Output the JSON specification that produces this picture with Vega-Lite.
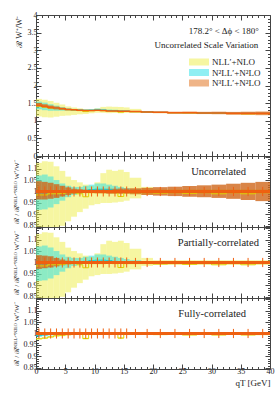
{
"$schema":"https://vega.github.io/schema/vega-lite/v6.json",
"padding":{"left":11,"top":11,"right":8,"bottom":2},
"spacing":0,
"bounds":"flush",
"config":{"view":{"stroke":null},"axis":{"domainColor":"#444","tickColor":"#444","labelColor":"#222","labelFont":"Liberation Serif","labelFontSize":8,"titleFont":"Liberation Serif","titleFontWeight":"normal","titleColor":"#222","titleFontSize":8,"grid":false,"labelOverlap":false,"labelFlush":false},"axisLeft":{"labelPadding":4}},
"datasets":{"bins":[
{"lo":0,"hi":1,"mid":0.5,"R":1.44,"Tyl":1.123,"Tyh":1.62,"Tyc":1.418,"Tcl":1.325,"Tch":1.541,"Tcc":1.433,"Tol":1.39,"Toh":1.505,"uyl":0.78,"uyh":1.125,"uyc":0.985,"ucl":0.92,"uch":1.07,"ucc":0.995,"uol":0.965,"uoh":1.045,"pol":0.972,"poh":1.032,"fyl":0.973,"fyh":0.981,"fyc":0.977,"fcl":0.985,"fch":1.0,"fcc":0.992,"fol":0.997,"foh":1.003,"el":0.978,"eh":1.022},
{"lo":1,"hi":2,"mid":1.5,"R":1.41,"Tyl":1.1,"Tyh":1.596,"Tyc":1.389,"Tcl":1.3,"Tch":1.514,"Tcc":1.403,"Tol":1.361,"Toh":1.469,"uyl":0.78,"uyh":1.132,"uyc":0.985,"ucl":0.922,"uch":1.074,"ucc":0.995,"uol":0.965,"uoh":1.042,"pol":0.975,"poh":1.03,"fyl":0.976,"fyh":0.984,"fyc":0.98,"fcl":0.988,"fch":1.0,"fcc":0.994,"fol":0.997,"foh":1.003,"el":0.978,"eh":1.022},
{"lo":2,"hi":3,"mid":2.5,"R":1.38,"Tyl":1.09,"Tyh":1.559,"Tyc":1.366,"Tcl":1.283,"Tch":1.47,"Tcc":1.376,"Tol":1.336,"Toh":1.432,"uyl":0.79,"uyh":1.13,"uyc":0.99,"ucl":0.93,"uch":1.065,"ucc":0.997,"uol":0.968,"uoh":1.038,"pol":0.978,"poh":1.027,"fyl":0.981,"fyh":0.989,"fyc":0.985,"fcl":0.991,"fch":1.001,"fcc":0.996,"fol":0.997,"foh":1.003,"el":0.978,"eh":1.022},
{"lo":3,"hi":4,"mid":3.5,"R":1.36,"Tyl":1.115,"Tyh":1.51,"Tyc":1.346,"Tcl":1.285,"Tch":1.428,"Tcc":1.357,"Tol":1.322,"Toh":1.404,"uyl":0.82,"uyh":1.11,"uyc":0.99,"ucl":0.945,"uch":1.05,"ucc":0.998,"uol":0.972,"uoh":1.032,"pol":0.983,"poh":1.02,"fyl":0.986,"fyh":0.994,"fyc":0.99,"fcl":0.993,"fch":1.001,"fcc":0.997,"fol":0.997,"foh":1.003,"el":0.978,"eh":1.022},
{"lo":4,"hi":5,"mid":4.5,"R":1.34,"Tyl":1.139,"Tyh":1.461,"Tyc":1.329,"Tcl":1.286,"Tch":1.387,"Tcc":1.337,"Tol":1.311,"Toh":1.374,"uyl":0.85,"uyh":1.09,"uyc":0.992,"ucl":0.96,"uch":1.035,"ucc":0.998,"uol":0.978,"uoh":1.025,"pol":0.988,"poh":1.013,"fyl":0.988,"fyh":0.996,"fyc":0.992,"fcl":0.995,"fch":1.001,"fcc":0.998,"fol":0.997,"foh":1.003,"el":0.978,"eh":1.022},
{"lo":5,"hi":6,"mid":5.5,"R":1.32,"Tyl":1.148,"Tyh":1.406,"Tyc":1.313,"Tcl":1.287,"Tch":1.353,"Tcc":1.32,"Tol":1.3,"Toh":1.344,"uyl":0.87,"uyh":1.065,"uyc":0.995,"ucl":0.975,"uch":1.025,"ucc":1.0,"uol":0.985,"uoh":1.018,"pol":0.992,"poh":1.008,"fyl":0.991,"fyh":0.999,"fyc":0.995,"fcl":0.997,"fch":1.003,"fcc":1.0,"fol":0.997,"foh":1.003,"el":0.978,"eh":1.022},
{"lo":6,"hi":7,"mid":6.5,"R":1.31,"Tyl":1.166,"Tyh":1.376,"Tyc":1.303,"Tcl":1.29,"Tch":1.336,"Tcc":1.31,"Tol":1.297,"Toh":1.326,"uyl":0.89,"uyh":1.05,"uyc":0.995,"ucl":0.985,"uch":1.02,"ucc":1.0,"uol":0.99,"uoh":1.012,"pol":0.994,"poh":1.006,"fyl":0.993,"fyh":1.001,"fyc":0.997,"fcl":0.997,"fch":1.003,"fcc":1.0,"fol":0.997,"foh":1.003,"el":0.978,"eh":1.022},
{"lo":7,"hi":8,"mid":7.5,"R":1.3,"Tyl":1.183,"Tyh":1.352,"Tyc":1.287,"Tcl":1.287,"Tch":1.326,"Tcc":1.303,"Tol":1.29,"Toh":1.313,"uyl":0.91,"uyh":1.04,"uyc":0.99,"ucl":0.99,"uch":1.02,"ucc":1.002,"uol":0.992,"uoh":1.01,"pol":0.996,"poh":1.004,"fyl":0.999,"fyh":1.007,"fyc":1.003,"fcl":0.997,"fch":1.003,"fcc":1.0,"fol":0.997,"foh":1.003,"el":0.978,"eh":1.022},
{"lo":8,"hi":9,"mid":8.5,"R":1.29,"Tyl":1.193,"Tyh":1.329,"Tyc":1.26,"Tcl":1.284,"Tch":1.322,"Tcc":1.296,"Tol":1.281,"Toh":1.3,"uyl":0.925,"uyh":1.03,"uyc":0.977,"ucl":0.995,"uch":1.025,"ucc":1.005,"uol":0.993,"uoh":1.008,"pol":0.996,"poh":1.004,"fyl":0.974,"fyh":0.982,"fyc":0.978,"fcl":0.997,"fch":1.003,"fcc":1.0,"fol":0.997,"foh":1.003,"el":0.978,"eh":1.022},
{"lo":9,"hi":10,"mid":9.5,"R":1.29,"Tyl":1.213,"Tyh":1.322,"Tyc":1.284,"Tcl":1.284,"Tch":1.329,"Tcc":1.3,"Tol":1.281,"Toh":1.3,"uyl":0.94,"uyh":1.025,"uyc":0.995,"ucl":0.995,"uch":1.03,"ucc":1.008,"uol":0.993,"uoh":1.008,"pol":0.996,"poh":1.004,"fyl":0.993,"fyh":1.001,"fyc":0.997,"fcl":0.997,"fch":1.003,"fcc":1.0,"fol":0.997,"foh":1.003,"el":0.978,"eh":1.022},
{"lo":10,"hi":11,"mid":10.5,"R":1.3,"Tyl":1.229,"Tyh":1.352,"Tyc":1.294,"Tcl":1.294,"Tch":1.346,"Tcc":1.313,"Tol":1.29,"Toh":1.313,"uyl":0.945,"uyh":1.04,"uyc":0.995,"ucl":0.995,"uch":1.035,"ucc":1.01,"uol":0.992,"uoh":1.01,"pol":0.996,"poh":1.004,"fyl":0.994,"fyh":1.002,"fyc":0.998,"fcl":0.997,"fch":1.003,"fcc":1.0,"fol":0.997,"foh":1.003,"el":0.978,"eh":1.022},
{"lo":11,"hi":12,"mid":11.5,"R":1.29,"Tyl":1.226,"Tyh":1.393,"Tyc":1.284,"Tcl":1.284,"Tch":1.335,"Tcc":1.303,"Tol":1.28,"Toh":1.303,"uyl":0.95,"uyh":1.08,"uyc":0.995,"ucl":0.995,"uch":1.035,"ucc":1.01,"uol":0.992,"uoh":1.01,"pol":0.996,"poh":1.004,"fyl":0.996,"fyh":1.004,"fyc":1.0,"fcl":0.997,"fch":1.003,"fcc":1.0,"fol":0.997,"foh":1.003,"el":0.978,"eh":1.022},
{"lo":12,"hi":13,"mid":12.5,"R":1.28,"Tyl":1.216,"Tyh":1.402,"Tyc":1.28,"Tcl":1.274,"Tch":1.318,"Tcc":1.29,"Tol":1.267,"Toh":1.295,"uyl":0.95,"uyh":1.095,"uyc":1.0,"ucl":0.995,"uch":1.03,"ucc":1.008,"uol":0.99,"uoh":1.012,"pol":0.996,"poh":1.004,"fyl":0.998,"fyh":1.006,"fyc":1.002,"fcl":0.997,"fch":1.003,"fcc":1.0,"fol":0.997,"foh":1.003,"el":0.978,"eh":1.022},
{"lo":13,"hi":14,"mid":13.5,"R":1.28,"Tyl":1.219,"Tyh":1.395,"Tyc":1.274,"Tcl":1.274,"Tch":1.312,"Tcc":1.286,"Tol":1.267,"Toh":1.295,"uyl":0.952,"uyh":1.09,"uyc":0.995,"ucl":0.995,"uch":1.025,"ucc":1.005,"uol":0.99,"uoh":1.012,"pol":0.996,"poh":1.004,"fyl":0.996,"fyh":1.004,"fyc":1.0,"fcl":0.997,"fch":1.003,"fcc":1.0,"fol":0.997,"foh":1.003,"el":0.978,"eh":1.022},
{"lo":14,"hi":15,"mid":14.5,"R":1.27,"Tyl":1.213,"Tyh":1.391,"Tyc":1.242,"Tcl":1.264,"Tch":1.295,"Tcc":1.274,"Tol":1.257,"Toh":1.287,"uyl":0.955,"uyh":1.095,"uyc":0.978,"ucl":0.995,"uch":1.02,"ucc":1.003,"uol":0.99,"uoh":1.013,"pol":0.996,"poh":1.004,"fyl":0.976,"fyh":0.984,"fyc":0.98,"fcl":0.997,"fch":1.003,"fcc":1.0,"fol":0.997,"foh":1.003,"el":0.978,"eh":1.022},
{"lo":15,"hi":16,"mid":15.5,"R":1.27,"Tyl":1.219,"Tyh":1.378,"Tyc":1.264,"Tcl":1.264,"Tch":1.289,"Tcc":1.273,"Tol":1.257,"Toh":1.287,"uyl":0.96,"uyh":1.085,"uyc":0.995,"ucl":0.995,"uch":1.015,"ucc":1.002,"uol":0.99,"uoh":1.013,"pol":0.996,"poh":1.004,"fyl":0.994,"fyh":1.002,"fyc":0.998,"fcl":0.997,"fch":1.003,"fcc":1.0,"fol":0.997,"foh":1.003,"el":0.978,"eh":1.022},
{"lo":16,"hi":18,"mid":17,"R":1.26,"Tyl":1.222,"Tyh":1.336,"Tyc":1.254,"Tcl":1.254,"Tch":1.273,"Tcc":1.26,"Tol":1.245,"Toh":1.278,"uyl":0.97,"uyh":1.06,"uyc":0.995,"ucl":0.995,"uch":1.01,"ucc":1.0,"uol":0.988,"uoh":1.014,"pol":0.996,"poh":1.004,"fyl":0.994,"fyh":1.002,"fyc":0.998,"fcl":0.997,"fch":1.003,"fcc":1.0,"fol":0.997,"foh":1.003,"el":0.98,"eh":1.02},
{"lo":18,"hi":20,"mid":19,"R":1.25,"Tyl":1.231,"Tyh":1.275,"Tyc":1.244,"Tcl":1.244,"Tch":1.258,"Tcc":1.25,"Tol":1.231,"Toh":1.27,"uyl":0.985,"uyh":1.02,"uyc":0.995,"ucl":0.995,"uch":1.006,"ucc":1.0,"uol":0.985,"uoh":1.016,"pol":0.996,"poh":1.004,"fyl":0.994,"fyh":1.002,"fyc":0.998,"fcl":0.997,"fch":1.003,"fcc":1.0,"fol":0.997,"foh":1.003,"el":0.98,"eh":1.02},
{"lo":20,"hi":22.5,"mid":21.25,"R":1.24,"Tyl":1.228,"Tyh":1.252,"Tyc":1.231,"Tcl":1.234,"Tch":1.246,"Tcc":1.24,"Tol":1.218,"Toh":1.264,"uyl":0.99,"uyh":1.01,"uyc":0.993,"ucl":0.995,"uch":1.005,"ucc":1.0,"uol":0.982,"uoh":1.019,"pol":0.996,"poh":1.004,"fyl":0.992,"fyh":1.0,"fyc":0.996,"fcl":0.997,"fch":1.003,"fcc":1.0,"fol":0.997,"foh":1.003,"el":0.98,"eh":1.02},
{"lo":22.5,"hi":25,"mid":23.75,"R":1.23,"Tyl":1.218,"Tyh":1.242,"Tyc":1.224,"Tcl":1.224,"Tch":1.236,"Tcc":1.23,"Tol":1.205,"Toh":1.256,"uyl":0.99,"uyh":1.01,"uyc":0.995,"ucl":0.995,"uch":1.005,"ucc":1.0,"uol":0.98,"uoh":1.021,"pol":0.996,"poh":1.004,"fyl":0.994,"fyh":1.002,"fyc":0.998,"fcl":0.997,"fch":1.003,"fcc":1.0,"fol":0.997,"foh":1.003,"el":0.98,"eh":1.02},
{"lo":25,"hi":27.5,"mid":26.25,"R":1.23,"Tyl":1.218,"Tyh":1.242,"Tyc":1.22,"Tcl":1.224,"Tch":1.236,"Tcc":1.23,"Tol":1.202,"Toh":1.26,"uyl":0.99,"uyh":1.01,"uyc":0.992,"ucl":0.995,"uch":1.005,"ucc":1.0,"uol":0.977,"uoh":1.024,"pol":0.996,"poh":1.004,"fyl":0.99,"fyh":0.998,"fyc":0.994,"fcl":0.997,"fch":1.003,"fcc":1.0,"fol":0.997,"foh":1.003,"el":0.98,"eh":1.02},
{"lo":27.5,"hi":30,"mid":28.75,"R":1.22,"Tyl":1.208,"Tyh":1.232,"Tyc":1.214,"Tcl":1.214,"Tch":1.226,"Tcc":1.22,"Tol":1.19,"Toh":1.253,"uyl":0.99,"uyh":1.01,"uyc":0.995,"ucl":0.995,"uch":1.005,"ucc":1.0,"uol":0.975,"uoh":1.027,"pol":0.996,"poh":1.004,"fyl":0.994,"fyh":1.002,"fyc":0.998,"fcl":0.997,"fch":1.003,"fcc":1.0,"fol":0.997,"foh":1.003,"el":0.98,"eh":1.02},
{"lo":30,"hi":32.5,"mid":31.25,"R":1.22,"Tyl":1.208,"Tyh":1.232,"Tyc":1.208,"Tcl":1.214,"Tch":1.226,"Tcc":1.22,"Tol":1.186,"Toh":1.257,"uyl":0.99,"uyh":1.01,"uyc":0.99,"ucl":0.995,"uch":1.005,"ucc":1.0,"uol":0.972,"uoh":1.03,"pol":0.996,"poh":1.004,"fyl":0.99,"fyh":0.998,"fyc":0.994,"fcl":0.997,"fch":1.003,"fcc":1.0,"fol":0.997,"foh":1.003,"el":0.98,"eh":1.02},
{"lo":32.5,"hi":35,"mid":33.75,"R":1.21,"Tyl":1.198,"Tyh":1.222,"Tyc":1.204,"Tcl":1.204,"Tch":1.216,"Tcc":1.21,"Tol":1.171,"Toh":1.251,"uyl":0.99,"uyh":1.01,"uyc":0.995,"ucl":0.995,"uch":1.005,"ucc":1.0,"uol":0.968,"uoh":1.034,"pol":0.996,"poh":1.004,"fyl":0.994,"fyh":1.002,"fyc":0.998,"fcl":0.997,"fch":1.003,"fcc":1.0,"fol":0.997,"foh":1.003,"el":0.98,"eh":1.02},
{"lo":35,"hi":37.5,"mid":36.25,"R":1.21,"Tyl":1.198,"Tyh":1.222,"Tyc":1.198,"Tcl":1.204,"Tch":1.216,"Tcc":1.21,"Tol":1.165,"Toh":1.256,"uyl":0.99,"uyh":1.01,"uyc":0.99,"ucl":0.995,"uch":1.005,"ucc":1.0,"uol":0.963,"uoh":1.038,"pol":0.996,"poh":1.004,"fyl":0.99,"fyh":0.998,"fyc":0.994,"fcl":0.997,"fch":1.003,"fcc":1.0,"fol":0.997,"foh":1.003,"el":0.98,"eh":1.02},
{"lo":37.5,"hi":40,"mid":38.75,"R":1.21,"Tyl":1.198,"Tyh":1.222,"Tyc":1.204,"Tcl":1.204,"Tch":1.216,"Tcc":1.21,"Tol":1.159,"Toh":1.261,"uyl":0.99,"uyh":1.01,"uyc":0.995,"ucl":0.995,"uch":1.005,"ucc":1.0,"uol":0.958,"uoh":1.042,"pol":0.996,"poh":1.004,"fyl":0.992,"fyh":1.0,"fyc":0.996,"fcl":0.997,"fch":1.003,"fcc":1.0,"fol":0.997,"foh":1.003,"el":0.98,"eh":1.02}
]},
"vconcat":[
{"width":234,"height":141,"data":{"name":"bins"},
 "layer":[
  {"mark":{"type":"rect","opacity":0.5,"clip":true},
   "encoding":{
    "x":{"field":"lo","type":"quantitative","scale":{"domain":[0,40],"nice":false,"zero":false},"axis":{"orient":"bottom","values":[0,1,2,3,4,5,6,7,8,9,10,11,12,13,14,15,16,17,18,19,20,21,22,23,24,25,26,27,28,29,30,31,32,33,34,35,36,37,38,39,40],"tickSize":{"condition":{"test":"datum.value % 5 === 0","value":-5},"value":-2.5},"labels":false,"title":null}},
    "x2":{"field":"hi"},
    "y":{"field":"Tyl","type":"quantitative","scale":{"domain":[0,4],"nice":false,"zero":false},"axis":{"orient":"left","values":[0,0.1,0.2,0.3,0.4,0.5,0.6,0.7,0.8,0.9,1,1.1,1.2,1.3,1.4,1.5,1.6,1.7,1.8,1.9,2,2.1,2.2,2.3,2.4,2.5,2.6,2.7,2.8,2.9,3,3.1,3.2,3.3,3.4,3.5,3.6,3.7,3.8,3.9,4],"format":"~g","tickSize":{"condition":{"test":"abs(datum.value*2-round(datum.value*2))<0.01","value":-5},"value":-2.5},"labelExpr":"abs(datum.value*2-round(datum.value*2))<0.01 ? datum.label : ''","title":"ℛ W⁺/W⁻","titleAnchor":"end"}},
    "y2":{"field":"Tyh"},
    "color":{"datum":"NLL′+NLO","type":"nominal","scale":{"domain":["NLL′+NLO","N²LL′+N²LO","N³LL′+N²LO"],"range":["#eeee44","#22e0e8","#e06a10"]},
     "legend":{"orient":"none","legendX":158,"legendY":42,"title":null,"symbolType":"M-2,-0.7H2V0.7H-2Z","symbolSize":100,"symbolStrokeWidth":0,"symbolOpacity":0.7,"labelFont":"Liberation Serif","labelFontSize":9,"labelColor":"#222","labelOffset":8,"rowPadding":0.5,"padding":0}}}},
  {"mark":{"type":"rect","opacity":0.5,"clip":true},
   "encoding":{
    "x":{"field":"lo","type":"quantitative","scale":{"domain":[0,40],"nice":false,"zero":false},"axis":{"orient":"top","values":[0,1,2,3,4,5,6,7,8,9,10,11,12,13,14,15,16,17,18,19,20,21,22,23,24,25,26,27,28,29,30,31,32,33,34,35,36,37,38,39,40],"tickSize":{"condition":{"test":"datum.value % 5 === 0","value":-5},"value":-2.5},"labels":false,"title":null}},
    "x2":{"field":"hi"},
    "y":{"field":"Tcl","type":"quantitative","scale":{"domain":[0,4],"nice":false,"zero":false},"axis":{"orient":"right","values":[0,0.1,0.2,0.3,0.4,0.5,0.6,0.7,0.8,0.9,1,1.1,1.2,1.3,1.4,1.5,1.6,1.7,1.8,1.9,2,2.1,2.2,2.3,2.4,2.5,2.6,2.7,2.8,2.9,3,3.1,3.2,3.3,3.4,3.5,3.6,3.7,3.8,3.9,4],"tickSize":{"condition":{"test":"abs(datum.value*2-round(datum.value*2))<0.01","value":-5},"value":-2.5},"labels":false,"title":null}},
    "y2":{"field":"Tch"},
    "color":{"datum":"N²LL′+N²LO","type":"nominal"}}},
  {"mark":{"type":"rect","opacity":0.75,"clip":true},
   "encoding":{"x":{"field":"lo","type":"quantitative","scale":{"domain":[0,40],"nice":false,"zero":false},"axis":null},"x2":{"field":"hi"},"y":{"field":"Tol","type":"quantitative","scale":{"domain":[0,4],"nice":false,"zero":false},"axis":null},"y2":{"field":"Toh"},"color":{"datum":"N³LL′+N²LO","type":"nominal"}}},
  {"transform":[{"fold":["lo","hi"],"as":["k","xv"]}],"mark":{"type":"line","color":"#e0d000","strokeWidth":1,"clip":true},
   "encoding":{"x":{"field":"xv","type":"quantitative","scale":{"domain":[0,40],"nice":false,"zero":false},"axis":null},"y":{"field":"Tyc","type":"quantitative","scale":{"domain":[0,4],"nice":false,"zero":false},"axis":null},"order":[{"field":"xv","type":"quantitative"},{"field":"k","type":"nominal"}]}},
  {"transform":[{"fold":["lo","hi"],"as":["k","xv"]}],"mark":{"type":"line","color":"#10ccd4","strokeWidth":1,"clip":true},
   "encoding":{"x":{"field":"xv","type":"quantitative","scale":{"domain":[0,40],"nice":false,"zero":false},"axis":null},"y":{"field":"Tcc","type":"quantitative","scale":{"domain":[0,4],"nice":false,"zero":false},"axis":null},"order":[{"field":"xv","type":"quantitative"},{"field":"k","type":"nominal"}]}},
  {"transform":[{"fold":["lo","hi"],"as":["k","xv"]}],"mark":{"type":"line","color":"#f06010","strokeWidth":1.5,"clip":true},
   "encoding":{"x":{"field":"xv","type":"quantitative","scale":{"domain":[0,40],"nice":false,"zero":false},"axis":null},"y":{"field":"R","type":"quantitative","scale":{"domain":[0,4],"nice":false,"zero":false},"axis":null},"order":[{"field":"xv","type":"quantitative"},{"field":"k","type":"nominal"}]}},
  {"data":{"values":[{"t":"178.2° < Δϕ < 180°","x":38.1,"y":3.56},{"t":"Uncorrelated Scale Variation","x":38.0,"y":3.14}]},
   "mark":{"type":"text","align":"right","baseline":"middle","font":"Liberation Serif","fontSize":9,"color":"#222"},
   "encoding":{"x":{"field":"x","type":"quantitative","scale":{"domain":[0,40],"nice":false,"zero":false},"axis":null},"y":{"field":"y","type":"quantitative","scale":{"domain":[0,4],"nice":false,"zero":false},"axis":null},"text":{"field":"t"}}}
 ],
 "resolve":{"axis":{"x":"independent","y":"independent"}}
},
{"width":234,"height":71,"data":{"name":"bins"},
 "layer":[
  {"mark":{"type":"rect","color":"#eeee44","opacity":0.5,"clip":true},
   "encoding":{
    "x":{"field":"lo","type":"quantitative","scale":{"domain":[0,40],"nice":false,"zero":false},"axis":{"orient":"bottom","values":[0,1,2,3,4,5,6,7,8,9,10,11,12,13,14,15,16,17,18,19,20,21,22,23,24,25,26,27,28,29,30,31,32,33,34,35,36,37,38,39,40],"tickSize":{"condition":{"test":"datum.value % 5 === 0","value":-5},"value":-2.5},"labels":false,"title":null}},
    "x2":{"field":"hi"},
    "y":{"field":"uyl","type":"quantitative","scale":{"domain":[0.845,1.155],"nice":false,"zero":false},"axis":{"orient":"left","values":[0.85,0.86,0.87,0.88,0.89,0.9,0.91,0.92,0.93,0.94,0.95,0.96,0.97,0.98,0.99,1,1.01,1.02,1.03,1.04,1.05,1.06,1.07,1.08,1.09,1.1,1.11,1.12,1.13,1.14,1.15],"format":"~g","tickSize":{"condition":{"test":"abs(datum.value*20-round(datum.value*20))<0.01","value":-5},"value":-2.5},"labelExpr":"abs(datum.value*20-round(datum.value*20))<0.01 && datum.value<1.14 ? datum.label : ''","title":"ℛ / ℛᴺ³ᴸᴸ′⁺ᴺ²ᴸᴼ W⁺/W⁻","titleFontSize":7}},
    "y2":{"field":"uyh"}}},
  {"mark":{"type":"rect","color":"#22e0e8","opacity":0.5,"clip":true},
   "encoding":{
    "x":{"field":"lo","type":"quantitative","scale":{"domain":[0,40],"nice":false,"zero":false},"axis":{"orient":"top","values":[0,1,2,3,4,5,6,7,8,9,10,11,12,13,14,15,16,17,18,19,20,21,22,23,24,25,26,27,28,29,30,31,32,33,34,35,36,37,38,39,40],"tickSize":{"condition":{"test":"datum.value % 5 === 0","value":-5},"value":-2.5},"labels":false,"title":null}},
    "x2":{"field":"hi"},
    "y":{"field":"ucl","type":"quantitative","scale":{"domain":[0.845,1.155],"nice":false,"zero":false},"axis":{"orient":"right","values":[0.85,0.86,0.87,0.88,0.89,0.9,0.91,0.92,0.93,0.94,0.95,0.96,0.97,0.98,0.99,1,1.01,1.02,1.03,1.04,1.05,1.06,1.07,1.08,1.09,1.1,1.11,1.12,1.13,1.14,1.15],"tickSize":{"condition":{"test":"abs(datum.value*20-round(datum.value*20))<0.01","value":-5},"value":-2.5},"labels":false,"title":null}},
    "y2":{"field":"uch"}}},
  {"mark":{"type":"rect","color":"#d0661a","opacity":0.8,"clip":true},
   "encoding":{"x":{"field":"lo","type":"quantitative","scale":{"domain":[0,40],"nice":false,"zero":false},"axis":null},"x2":{"field":"hi"},"y":{"field":"uol","type":"quantitative","scale":{"domain":[0.845,1.155],"nice":false,"zero":false},"axis":null},"y2":{"field":"uoh"}}},
  {"transform":[{"fold":["lo","hi"],"as":["k","xv"]}],"mark":{"type":"line","color":"#e0d000","strokeWidth":1,"clip":true},
   "encoding":{"x":{"field":"xv","type":"quantitative","scale":{"domain":[0,40],"nice":false,"zero":false},"axis":null},"y":{"field":"uyc","type":"quantitative","scale":{"domain":[0.845,1.155],"nice":false,"zero":false},"axis":null},"order":[{"field":"xv","type":"quantitative"},{"field":"k","type":"nominal"}]}},
  {"transform":[{"fold":["lo","hi"],"as":["k","xv"]}],"mark":{"type":"line","color":"#10ccd4","strokeWidth":1,"clip":true},
   "encoding":{"x":{"field":"xv","type":"quantitative","scale":{"domain":[0,40],"nice":false,"zero":false},"axis":null},"y":{"field":"ucc","type":"quantitative","scale":{"domain":[0.845,1.155],"nice":false,"zero":false},"axis":null},"order":[{"field":"xv","type":"quantitative"},{"field":"k","type":"nominal"}]}},
  {"mark":{"type":"rule","color":"#f06010","strokeWidth":1.5},"encoding":{"y":{"datum":1,"type":"quantitative","scale":{"domain":[0.845,1.155],"nice":false,"zero":false},"axis":null}}},
  {"mark":{"type":"rule","color":"#f06010","strokeWidth":1},"encoding":{"x":{"field":"mid","type":"quantitative","scale":{"domain":[0,40],"nice":false,"zero":false},"axis":null},"y":{"field":"el","type":"quantitative","scale":{"domain":[0.845,1.155],"nice":false,"zero":false},"axis":null},"y2":{"field":"eh"}}},
  {"data":{"values":[{"t":"Uncorrelated","x":35.9,"y":1.084}]},
   "mark":{"type":"text","align":"right","baseline":"middle","font":"Liberation Serif","fontSize":10.5,"color":"#222"},
   "encoding":{"x":{"field":"x","type":"quantitative","scale":{"domain":[0,40],"nice":false,"zero":false},"axis":null},"y":{"field":"y","type":"quantitative","scale":{"domain":[0.845,1.155],"nice":false,"zero":false},"axis":null},"text":{"field":"t"}}}
 ],
 "resolve":{"axis":{"x":"independent","y":"independent"}}
},
{"width":234,"height":71,"data":{"name":"bins"},
 "layer":[
  {"mark":{"type":"rect","color":"#eeee44","opacity":0.5,"clip":true},
   "encoding":{
    "x":{"field":"lo","type":"quantitative","scale":{"domain":[0,40],"nice":false,"zero":false},"axis":{"orient":"bottom","values":[0,1,2,3,4,5,6,7,8,9,10,11,12,13,14,15,16,17,18,19,20,21,22,23,24,25,26,27,28,29,30,31,32,33,34,35,36,37,38,39,40],"tickSize":{"condition":{"test":"datum.value % 5 === 0","value":-5},"value":-2.5},"labels":false,"title":null}},
    "x2":{"field":"hi"},
    "y":{"field":"uyl","type":"quantitative","scale":{"domain":[0.845,1.155],"nice":false,"zero":false},"axis":{"orient":"left","values":[0.85,0.86,0.87,0.88,0.89,0.9,0.91,0.92,0.93,0.94,0.95,0.96,0.97,0.98,0.99,1,1.01,1.02,1.03,1.04,1.05,1.06,1.07,1.08,1.09,1.1,1.11,1.12,1.13,1.14,1.15],"format":"~g","tickSize":{"condition":{"test":"abs(datum.value*20-round(datum.value*20))<0.01","value":-5},"value":-2.5},"labelExpr":"abs(datum.value*20-round(datum.value*20))<0.01 && datum.value<1.14 ? datum.label : ''","title":"ℛ / ℛᴺ³ᴸᴸ′⁺ᴺ²ᴸᴼ W⁺/W⁻","titleFontSize":7}},
    "y2":{"field":"uyh"}}},
  {"mark":{"type":"rect","color":"#22e0e8","opacity":0.5,"clip":true},
   "encoding":{
    "x":{"field":"lo","type":"quantitative","scale":{"domain":[0,40],"nice":false,"zero":false},"axis":{"orient":"top","values":[0,1,2,3,4,5,6,7,8,9,10,11,12,13,14,15,16,17,18,19,20,21,22,23,24,25,26,27,28,29,30,31,32,33,34,35,36,37,38,39,40],"tickSize":{"condition":{"test":"datum.value % 5 === 0","value":-5},"value":-2.5},"labels":false,"title":null}},
    "x2":{"field":"hi"},
    "y":{"field":"ucl","type":"quantitative","scale":{"domain":[0.845,1.155],"nice":false,"zero":false},"axis":{"orient":"right","values":[0.85,0.86,0.87,0.88,0.89,0.9,0.91,0.92,0.93,0.94,0.95,0.96,0.97,0.98,0.99,1,1.01,1.02,1.03,1.04,1.05,1.06,1.07,1.08,1.09,1.1,1.11,1.12,1.13,1.14,1.15],"tickSize":{"condition":{"test":"abs(datum.value*20-round(datum.value*20))<0.01","value":-5},"value":-2.5},"labels":false,"title":null}},
    "y2":{"field":"uch"}}},
  {"mark":{"type":"rect","color":"#d0661a","opacity":0.8,"clip":true},
   "encoding":{"x":{"field":"lo","type":"quantitative","scale":{"domain":[0,40],"nice":false,"zero":false},"axis":null},"x2":{"field":"hi"},"y":{"field":"pol","type":"quantitative","scale":{"domain":[0.845,1.155],"nice":false,"zero":false},"axis":null},"y2":{"field":"poh"}}},
  {"transform":[{"fold":["lo","hi"],"as":["k","xv"]}],"mark":{"type":"line","color":"#e0d000","strokeWidth":1,"clip":true},
   "encoding":{"x":{"field":"xv","type":"quantitative","scale":{"domain":[0,40],"nice":false,"zero":false},"axis":null},"y":{"field":"uyc","type":"quantitative","scale":{"domain":[0.845,1.155],"nice":false,"zero":false},"axis":null},"order":[{"field":"xv","type":"quantitative"},{"field":"k","type":"nominal"}]}},
  {"transform":[{"fold":["lo","hi"],"as":["k","xv"]}],"mark":{"type":"line","color":"#10ccd4","strokeWidth":1,"clip":true},
   "encoding":{"x":{"field":"xv","type":"quantitative","scale":{"domain":[0,40],"nice":false,"zero":false},"axis":null},"y":{"field":"ucc","type":"quantitative","scale":{"domain":[0.845,1.155],"nice":false,"zero":false},"axis":null},"order":[{"field":"xv","type":"quantitative"},{"field":"k","type":"nominal"}]}},
  {"mark":{"type":"rule","color":"#f06010","strokeWidth":1.5},"encoding":{"y":{"datum":1,"type":"quantitative","scale":{"domain":[0.845,1.155],"nice":false,"zero":false},"axis":null}}},
  {"mark":{"type":"rule","color":"#f06010","strokeWidth":1},"encoding":{"x":{"field":"mid","type":"quantitative","scale":{"domain":[0,40],"nice":false,"zero":false},"axis":null},"y":{"field":"el","type":"quantitative","scale":{"domain":[0.845,1.155],"nice":false,"zero":false},"axis":null},"y2":{"field":"eh"}}},
  {"data":{"values":[{"t":"Partially-correlated","x":38.1,"y":1.083}]},
   "mark":{"type":"text","align":"right","baseline":"middle","font":"Liberation Serif","fontSize":10.5,"color":"#222"},
   "encoding":{"x":{"field":"x","type":"quantitative","scale":{"domain":[0,40],"nice":false,"zero":false},"axis":null},"y":{"field":"y","type":"quantitative","scale":{"domain":[0.845,1.155],"nice":false,"zero":false},"axis":null},"text":{"field":"t"}}}
 ],
 "resolve":{"axis":{"x":"independent","y":"independent"}}
},
{"width":234,"height":71,"data":{"name":"bins"},
 "layer":[
  {"mark":{"type":"rect","color":"#eeee44","opacity":0.5,"clip":true},
   "encoding":{
    "x":{"field":"lo","type":"quantitative","scale":{"domain":[0,40],"nice":false,"zero":false},"axis":{"orient":"bottom","values":[0,1,2,3,4,5,6,7,8,9,10,11,12,13,14,15,16,17,18,19,20,21,22,23,24,25,26,27,28,29,30,31,32,33,34,35,36,37,38,39,40],"tickSize":{"condition":{"test":"datum.value % 5 === 0","value":-5},"value":-2.5},"labelExpr":"datum.value % 5 === 0 ? datum.label : ''","labelPadding":3,"title":"qT [GeV]","titleAnchor":"end","titleFontSize":9,"titlePadding":1}},
    "x2":{"field":"hi"},
    "y":{"field":"fyl","type":"quantitative","scale":{"domain":[0.845,1.155],"nice":false,"zero":false},"axis":{"orient":"left","values":[0.85,0.86,0.87,0.88,0.89,0.9,0.91,0.92,0.93,0.94,0.95,0.96,0.97,0.98,0.99,1,1.01,1.02,1.03,1.04,1.05,1.06,1.07,1.08,1.09,1.1,1.11,1.12,1.13,1.14,1.15],"format":"~g","tickSize":{"condition":{"test":"abs(datum.value*20-round(datum.value*20))<0.01","value":-5},"value":-2.5},"labelExpr":"abs(datum.value*20-round(datum.value*20))<0.01 && datum.value<1.14 ? datum.label : ''","title":"ℛ / ℛᴺ³ᴸᴸ′⁺ᴺ²ᴸᴼ W⁺/W⁻","titleFontSize":7}},
    "y2":{"field":"fyh"}}},
  {"mark":{"type":"rect","color":"#22e0e8","opacity":0.5,"clip":true},
   "encoding":{
    "x":{"field":"lo","type":"quantitative","scale":{"domain":[0,40],"nice":false,"zero":false},"axis":{"orient":"top","values":[0,1,2,3,4,5,6,7,8,9,10,11,12,13,14,15,16,17,18,19,20,21,22,23,24,25,26,27,28,29,30,31,32,33,34,35,36,37,38,39,40],"tickSize":{"condition":{"test":"datum.value % 5 === 0","value":-5},"value":-2.5},"labels":false,"title":null}},
    "x2":{"field":"hi"},
    "y":{"field":"fcl","type":"quantitative","scale":{"domain":[0.845,1.155],"nice":false,"zero":false},"axis":{"orient":"right","values":[0.85,0.86,0.87,0.88,0.89,0.9,0.91,0.92,0.93,0.94,0.95,0.96,0.97,0.98,0.99,1,1.01,1.02,1.03,1.04,1.05,1.06,1.07,1.08,1.09,1.1,1.11,1.12,1.13,1.14,1.15],"tickSize":{"condition":{"test":"abs(datum.value*20-round(datum.value*20))<0.01","value":-5},"value":-2.5},"labels":false,"title":null}},
    "y2":{"field":"fch"}}},
  {"mark":{"type":"rect","color":"#d0661a","opacity":0.8,"clip":true},
   "encoding":{"x":{"field":"lo","type":"quantitative","scale":{"domain":[0,40],"nice":false,"zero":false},"axis":null},"x2":{"field":"hi"},"y":{"field":"fol","type":"quantitative","scale":{"domain":[0.845,1.155],"nice":false,"zero":false},"axis":null},"y2":{"field":"foh"}}},
  {"transform":[{"fold":["lo","hi"],"as":["k","xv"]}],"mark":{"type":"line","color":"#e0d000","strokeWidth":1,"clip":true},
   "encoding":{"x":{"field":"xv","type":"quantitative","scale":{"domain":[0,40],"nice":false,"zero":false},"axis":null},"y":{"field":"fyc","type":"quantitative","scale":{"domain":[0.845,1.155],"nice":false,"zero":false},"axis":null},"order":[{"field":"xv","type":"quantitative"},{"field":"k","type":"nominal"}]}},
  {"transform":[{"fold":["lo","hi"],"as":["k","xv"]}],"mark":{"type":"line","color":"#10ccd4","strokeWidth":1,"clip":true},
   "encoding":{"x":{"field":"xv","type":"quantitative","scale":{"domain":[0,40],"nice":false,"zero":false},"axis":null},"y":{"field":"fcc","type":"quantitative","scale":{"domain":[0.845,1.155],"nice":false,"zero":false},"axis":null},"order":[{"field":"xv","type":"quantitative"},{"field":"k","type":"nominal"}]}},
  {"mark":{"type":"rule","color":"#f06010","strokeWidth":1.5},"encoding":{"y":{"datum":1,"type":"quantitative","scale":{"domain":[0.845,1.155],"nice":false,"zero":false},"axis":null}}},
  {"mark":{"type":"rule","color":"#f06010","strokeWidth":1},"encoding":{"x":{"field":"mid","type":"quantitative","scale":{"domain":[0,40],"nice":false,"zero":false},"axis":null},"y":{"field":"el","type":"quantitative","scale":{"domain":[0.845,1.155],"nice":false,"zero":false},"axis":null},"y2":{"field":"eh"}}},
  {"data":{"values":[{"t":"Fully-correlated","x":35.9,"y":1.083}]},
   "mark":{"type":"text","align":"right","baseline":"middle","font":"Liberation Serif","fontSize":10.5,"color":"#222"},
   "encoding":{"x":{"field":"x","type":"quantitative","scale":{"domain":[0,40],"nice":false,"zero":false},"axis":null},"y":{"field":"y","type":"quantitative","scale":{"domain":[0.845,1.155],"nice":false,"zero":false},"axis":null},"text":{"field":"t"}}}
 ],
 "resolve":{"axis":{"x":"independent","y":"independent"}}
}
]
}
